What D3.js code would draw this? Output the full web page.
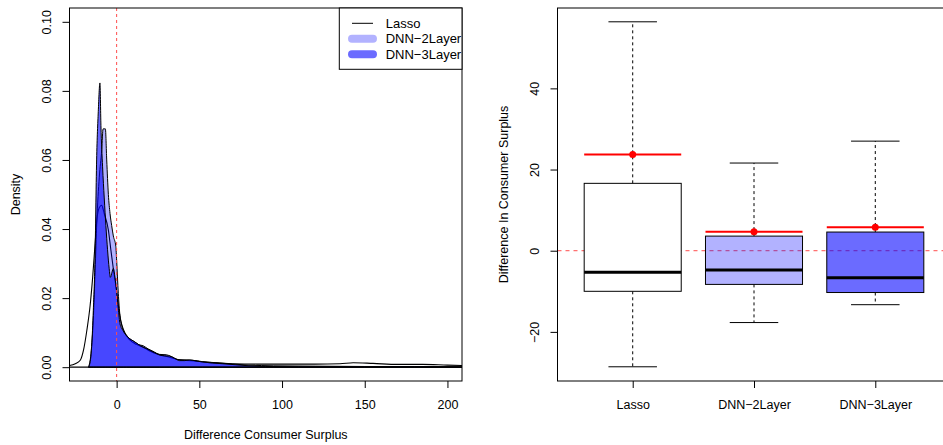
<!DOCTYPE html>
<html>
<head>
<meta charset="utf-8">
<script src="https://cdn.jsdelivr.net/npm/d3@7"></script>
<style>
  body { margin: 0; background: #fff; }
  svg { display: block; font-family: "Liberation Sans", Arial, sans-serif; }
</style>
</head>
<body>
<svg id="chart" width="943" height="445"></svg>
<script>
// density estimates: [x, density]
const lassoDensity = [
  [-28.5, 0.0005], [-25, 0.001], [-22, 0.002], [-20, 0.005], [-18, 0.0107], [-16, 0.018],
  [-14.5, 0.026], [-13, 0.036], [-12, 0.0425], [-10.5, 0.0462], [-9.1, 0.0469], [-7.5, 0.0445],
  [-5, 0.0397], [-3.5, 0.034], [-2, 0.0285], [0, 0.022], [1, 0.018], [2.5, 0.0135], [4, 0.011],
  [8, 0.0079], [12, 0.0066], [16, 0.0058], [20, 0.0047], [26, 0.0036], [32, 0.0029], [38, 0.0021],
  [45, 0.0019], [55, 0.0014], [70, 0.001], [85, 0.0009], [100, 0.0009], [120, 0.0009],
  [135, 0.001], [143, 0.0013], [155, 0.0011], [170, 0.0008], [185, 0.0008], [200, 0.0006], [209, 0.0005]
];
const dnn2Density = [
  [-17, 0], [-15.5, 0.004], [-14, 0.015], [-13, 0.028], [-12, 0.042], [-10.5, 0.055],
  [-9, 0.063], [-8.2, 0.069], [-6.8, 0.069], [-6, 0.06], [-5, 0.05], [-4, 0.0445], [-3, 0.041],
  [-2, 0.038], [-0.5, 0.035], [0, 0.031], [1, 0.0214], [2, 0.015], [4, 0.0107], [6, 0.0092],
  [8, 0.0082], [10, 0.0076], [13, 0.0066], [16, 0.0062], [19, 0.0053], [22, 0.0046], [26, 0.0037],
  [30, 0.0036], [33, 0.0031], [37, 0.0022], [42, 0.0021], [46, 0.002], [52, 0.0016], [60, 0.0013],
  [70, 0.0009], [80, 0.0006], [95, 0.0004], [120, 0.0003], [150, 0.0002], [180, 0.0002], [209, 0.0001]
];
const dnn3Density = [
  [-17, 0], [-16.5, 0.0005], [-15.1, 0.006], [-14.1, 0.0165], [-13.1, 0.031], [-12.1, 0.06],
  [-11.1, 0.074], [-10.1, 0.0823], [-9.5, 0.07], [-8.5, 0.058], [-7.5, 0.049], [-6.5, 0.041],
  [-5.5, 0.034], [-4.5, 0.0285], [-3.8, 0.026], [-2.8, 0.0275], [-2, 0.0286], [-1, 0.026],
  [0, 0.022], [1, 0.017], [2, 0.0126], [4, 0.0105], [6, 0.0091], [8, 0.0082], [10, 0.0076],
  [12, 0.007], [14, 0.0063], [16, 0.0058], [18, 0.0054], [20, 0.0049], [23, 0.0042], [26, 0.0035],
  [29, 0.0033], [32, 0.0032], [35, 0.0026], [38, 0.0019], [41, 0.0019], [44, 0.0021], [48, 0.0018],
  [52, 0.0015], [58, 0.0012], [64, 0.001], [72, 0.0007], [80, 0.0004], [90, 0.0002], [110, 0.0001],
  [150, 0.0001], [209, 0.00005]
];

// box plot summaries
const models = ["Lasso", "DNN\u22122Layer", "DNN\u22123Layer"];
const whiskerLow = [-28.6, -17.7, -13.3];
const q1 = [-10.0, -8.3, -10.3];
const median = [-5.3, -4.75, -6.65];
const q3 = [16.6, 3.6, 4.6];
const whiskerHigh = [56.4, 21.6, 27.0];
const means = [23.7, 4.7, 5.8];
const boxFill = ["#ffffff", "rgba(0,0,255,0.3)", "rgba(0,0,255,0.58)"];

const densityTicks = [0, 0.02, 0.04, 0.06, 0.08, 0.10];
const surplusTicks = [0, 50, 100, 150, 200];
const diffTicks = [-20, 0, 20, 40];

const svg = d3.select("#chart");
const fontSize = 12.5;

/**
 * rotates left axis labels the way R draws them
 */
function rLeftAxis (g, offset) {
  g.select(".domain").remove();
  g.selectAll(".tick line").attr("stroke", "#000");
  g.selectAll(".tick text")
    .attr("x", 0).attr("y", -offset).attr("dy", "0.35em")
    .attr("transform", "rotate(-90)")
    .attr("text-anchor", "middle")
    .attr("fill", "#000")
    .style("font-size", fontSize + "px");
}

function rBottomAxis (g) {
  g.select(".domain").remove();
  g.selectAll(".tick line").attr("stroke", "#000");
  g.selectAll(".tick text")
    .attr("y", 24).attr("dy", "0.35em")
    .attr("fill", "#000")
    .style("font-size", fontSize + "px");
}

// ---------- left panel: densities ----------
const x1 = d3.scaleLinear().domain([-28.5, 208.8]).range([69.5, 462]);
const y1 = d3.scaleLinear().domain([-0.004, 0.104]).range([381, 8]);

const left = svg.append("g");
left.append("defs").append("clipPath").attr("id", "clipL")
  .append("rect").attr("x", 69.5).attr("y", 8).attr("width", 462 - 69.5).attr("height", 373);

const plotL = left.append("g").attr("clip-path", "url(#clipL)");
const densLine = d3.line().x(d => x1(d[0])).y(d => y1(d[1])).curve(d3.curveMonotoneX);
const densArea = d3.area().x(d => x1(d[0])).y0(y1(0)).y1(d => y1(d[1])).curve(d3.curveMonotoneX);

plotL.append("path").attr("d", densLine(lassoDensity))
  .attr("fill", "none").attr("stroke", "#000").attr("stroke-width", 1.1);
plotL.append("path").attr("d", densArea(dnn2Density))
  .attr("fill", "rgba(0,0,255,0.3)").attr("stroke", "#000").attr("stroke-width", 1);
plotL.append("path").attr("d", densArea(dnn3Density))
  .attr("fill", "rgba(0,0,255,0.6)").attr("stroke", "#000").attr("stroke-width", 1);
plotL.append("line")
  .attr("x1", 69.5).attr("x2", 462).attr("y1", y1(0)).attr("y2", y1(0))
  .attr("stroke", "#000").attr("stroke-width", 1.2);
plotL.append("line")
  .attr("x1", x1(0)).attr("x2", x1(0)).attr("y1", 8).attr("y2", 381)
  .attr("stroke", "#ff4d4d").attr("stroke-width", 1).attr("stroke-dasharray", "3,3");

left.append("rect").attr("x", 69.5).attr("y", 8).attr("width", 462 - 69.5).attr("height", 373)
  .attr("fill", "none").attr("stroke", "#000");

left.append("g").attr("transform", "translate(0,381)")
  .call(d3.axisBottom(x1).tickValues(surplusTicks).tickSize(7).tickFormat(d3.format("d")))
  .call(rBottomAxis);
left.append("g").attr("transform", "translate(69.5,0)")
  .call(d3.axisLeft(y1).tickValues(densityTicks).tickSize(7).tickFormat(d3.format(".2f")))
  .call(g => rLeftAxis(g, 23));

left.append("text").attr("x", x1.range()[0] / 2 + 462 / 2).attr("y", 435).attr("dy", "0.35em")
  .attr("text-anchor", "middle").style("font-size", fontSize + "px")
  .text("Difference Consumer Surplus");
left.append("text").attr("transform", "translate(16,194.5) rotate(-90)").attr("dy", "0.35em")
  .attr("text-anchor", "middle").style("font-size", fontSize + "px")
  .text("Density");

// legend
const legend = left.append("g");
legend.append("rect").attr("x", 339.3).attr("y", 8).attr("width", 462 - 339.3).attr("height", 61.3)
  .attr("fill", "#fff").attr("stroke", "#000");
const legendItems = [
  { label: "Lasso", color: "#000", width: 1 },
  { label: "DNN\u22122Layer", color: "rgba(0,0,255,0.3)", width: 8 },
  { label: "DNN\u22123Layer", color: "rgba(0,0,255,0.58)", width: 8 }
];
legendItems.forEach((item, i) => {
  const yy = 23.3 + i * 15.5;
  legend.append("line").attr("x1", 352).attr("x2", 373).attr("y1", yy).attr("y2", yy)
    .attr("stroke", item.color).attr("stroke-width", item.width).attr("stroke-linecap", item.width > 1 ? "round" : "butt");
  legend.append("text").attr("x", 385.7).attr("y", yy).attr("dy", "0.35em")
    .style("font-size", "13px").text(item.label);
});

// ---------- right panel: box plots ----------
const x2 = d3.scaleLinear().domain([0.38, 3.62]).range([557.5, 950.5]);
const y2 = d3.scaleLinear().domain([-32.1, 59.8]).range([381, 8]);
const right = svg.append("g");

right.append("line")
  .attr("x1", 557.5).attr("x2", 943).attr("y1", y2(0)).attr("y2", y2(0))
  .attr("stroke", "#ff4d4d").attr("stroke-width", 1).attr("stroke-dasharray", "4,4");

models.forEach((m, i) => {
  const c = i + 1;
  const g = right.append("g");
  // whiskers
  g.append("line").attr("x1", x2(c)).attr("x2", x2(c)).attr("y1", y2(q3[i])).attr("y2", y2(whiskerHigh[i]))
    .attr("stroke", "#000").attr("stroke-dasharray", "3,3");
  g.append("line").attr("x1", x2(c)).attr("x2", x2(c)).attr("y1", y2(q1[i])).attr("y2", y2(whiskerLow[i]))
    .attr("stroke", "#000").attr("stroke-dasharray", "3,3");
  [whiskerHigh[i], whiskerLow[i]].forEach(v => {
    g.append("line").attr("x1", x2(c - 0.2)).attr("x2", x2(c + 0.2)).attr("y1", y2(v)).attr("y2", y2(v))
      .attr("stroke", "#000");
  });
  g.append("rect").attr("x", x2(c - 0.4)).attr("width", x2(c + 0.4) - x2(c - 0.4))
    .attr("y", y2(q3[i])).attr("height", y2(q1[i]) - y2(q3[i]))
    .attr("fill", boxFill[i]).attr("stroke", "#000");
  g.append("line").attr("x1", x2(c - 0.4)).attr("x2", x2(c + 0.4)).attr("y1", y2(median[i])).attr("y2", y2(median[i]))
    .attr("stroke", "#000").attr("stroke-width", 3);
  // mean
  g.append("line").attr("x1", x2(c - 0.4)).attr("x2", x2(c + 0.4)).attr("y1", y2(means[i])).attr("y2", y2(means[i]))
    .attr("stroke", "#ff0000").attr("stroke-width", 2);
  g.append("circle").attr("cx", x2(c)).attr("cy", y2(means[i])).attr("r", 3.5).attr("fill", "#ff0000");
});

right.append("rect").attr("x", 557.5).attr("y", 8).attr("width", 950.5 - 557.5).attr("height", 373)
  .attr("fill", "none").attr("stroke", "#000");

right.append("g").attr("transform", "translate(0,381)")
  .call(d3.axisBottom(x2).tickValues([1, 2, 3]).tickSize(7).tickFormat(d => models[d - 1]))
  .call(rBottomAxis);
right.append("g").attr("transform", "translate(557.5,0)")
  .call(d3.axisLeft(y2).tickValues(diffTicks).tickSize(7).tickFormat(d => d < 0 ? "\u2212" + Math.abs(d) : d))
  .call(g => rLeftAxis(g, 22.5));

right.append("text").attr("transform", "translate(503.3,194.5) rotate(-90)").attr("dy", "0.35em")
  .attr("text-anchor", "middle").style("font-size", fontSize + "px")
  .text("Difference In Consumer Surplus");
</script>
</body>
</html>
